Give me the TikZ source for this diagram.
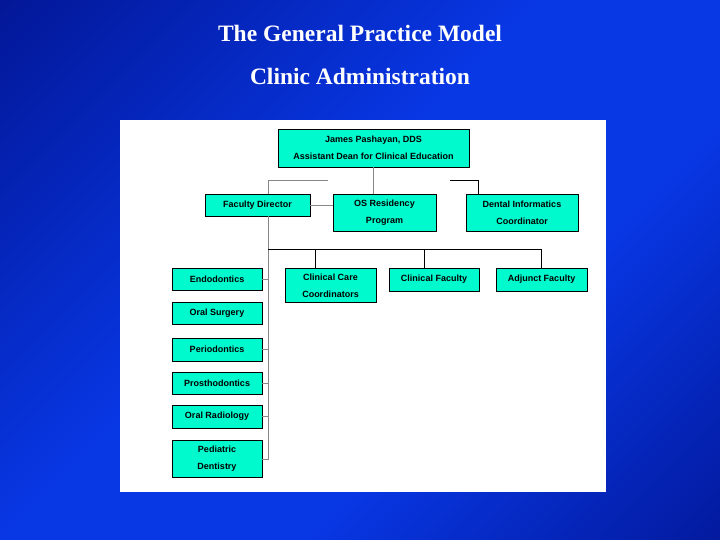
\documentclass[tikz,border=0pt]{standalone}
\usepackage{fontspec}
\setmainfont{Liberation Serif}
\setsansfont{Liberation Sans}
\usepackage{xcolor}
\definecolor{navy}{RGB}{0, 8, 115}
\definecolor{brightblue}{RGB}{8, 55, 228}
\definecolor{aqua}{RGB}{0, 250, 205}
\definecolor{linegray}{RGB}{135, 135, 135}
\usepackage{tikz}
\usetikzlibrary{positioning, calc}

\pgfdeclareverticalshading{slidebg}{100bp}{
	color(0bp)=(navy); color(38bp)=(brightblue); color(55bp)=(brightblue); color(100bp)=(navy)}

\begin{document}
\begin{tikzpicture}[x=1pt, y=-1pt,
			box/.style={rectangle, draw=black, line width=0.7pt, fill=aqua,
				inner sep=0pt, align=center,
				font=\sffamily\bfseries\fontsize{9}{17}\selectfont},
			gline/.style={draw=linegray, line width=0.8pt},
			bline/.style={draw=black, line width=0.8pt},
			title/.style={text=white, font=\bfseries\fontsize{23.5}{26}\selectfont}
			]
			\useasboundingbox (0,0) rectangle (720,540);
			% background and white sheet
			\shade[shading=slidebg, shading angle=45] (0,0) rectangle (720,540);
			\fill[white] (120,120) rectangle (606,492);
			
			\node[title] (ttl1) at (360,33) {The General Practice Model};
			\node[title] (ttl2) at (360,76) {Clinic Administration};
			
			% top rows
			\node[box, minimum width=191pt, minimum height=38pt] (dean)   at (373.5,148) {James Pashayan, DDS \\ Assistant Dean for Clinical Education};
			\node[box, minimum width=105pt, minimum height=22pt] (facdir) at (257.5,205) {Faculty Director};
			\node[box, minimum width=103pt, minimum height=37pt] (osres)  at (384.5,213) {OS Residency \\ Program};
			\node[box, minimum width=112pt, minimum height=37pt] (dic)    at (522,213) {Dental Informatics \\ Coordinator};
			
			% faculty row
			\node[box, minimum width=91pt, minimum height=34pt] (ccc)   at (330.5,285.5) {Clinical Care \\ Coordinators};
			\node[box, minimum width=90pt, minimum height=23pt] (clfac) at (434,279.5) {Clinical Faculty};
			\node[box, minimum width=91pt, minimum height=23pt] (adj)   at (541.5,279.5) {Adjunct Faculty};
			
			% departments
			\node[box, minimum width=90pt, minimum height=22pt] (endo)    at (217,279) {Endodontics};
			\node[box, minimum width=90pt, minimum height=22pt] (osurg)   at (217,313) {Oral Surgery};
			\node[box, minimum width=90pt, minimum height=23pt] (perio)   at (217,349.5) {Periodontics};
			\node[box, minimum width=90pt, minimum height=22pt] (prosth)  at (217,383) {Prosthodontics};
			\node[box, minimum width=90pt, minimum height=23pt] (orad)    at (217,416.5) {Oral Radiology};
			\node[box, minimum width=90pt, minimum height=37pt] (ped)     at (217,459) {Pediatric \\ Dentistry};
			
			\coordinate (spine) at (268,249);
			\coordinate (busL)  at (328,180);
			\coordinate (busR)  at (450,180);
			
			\draw[gline] (dean.south) -- (dean.south |- osres.north);
			\draw[gline] (busL) -| (spine |- facdir.north);
			\draw[bline] (busR) -| ([xshift=13pt]dic.north west);
			\draw[gline] (facdir.east) -- (facdir.east -| osres.west);
			\draw[gline] (spine |- facdir.south) |- (ped.east);
			\draw[gline] (endo.east)   -- (endo.east -| spine);
			\draw[gline] (perio.east)  -- (perio.east -| spine);
			\draw[gline] (prosth.east) -- (prosth.east -| spine);
			\draw[gline] (orad.east)   -- (orad.east -| spine);
			
			\draw[bline] (spine) -| (adj.north);
			\draw[bline] ([xshift=-15.5pt]ccc.north) |- (spine);
			\draw[bline] ([xshift=-10pt]clfac.north) |- (spine);
		\end{tikzpicture}
\end{document}
